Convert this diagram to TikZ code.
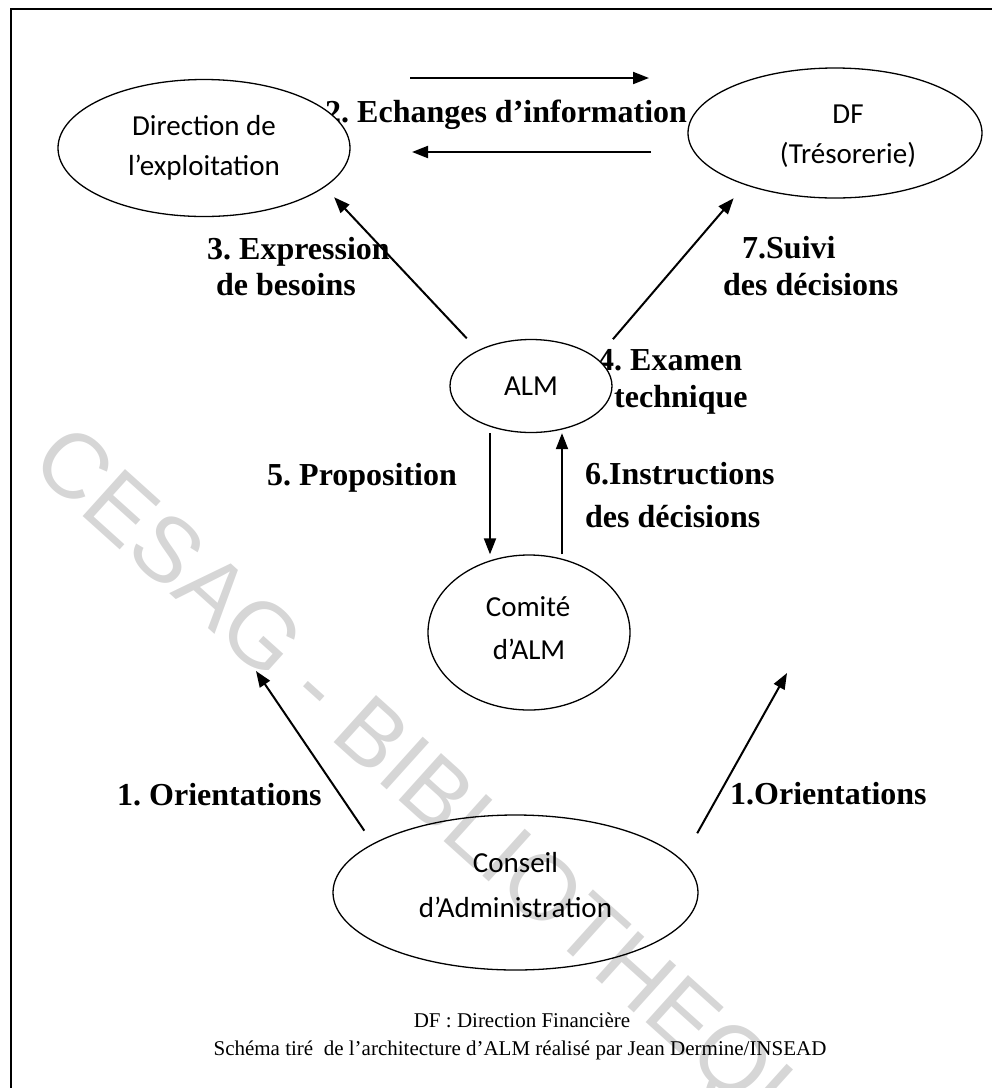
\documentclass[tikz,border=0pt]{standalone}
\usepackage{fontspec}
\setmainfont{Liberation Serif}
\newfontfamily\calib{Carlito}
\newfontfamily\wmfont{Liberation Sans}
\usetikzlibrary{arrows.meta,shapes.geometric,calc}
\frenchspacing
\begin{document}
\begin{tikzpicture}[x=1pt,y=-1pt,
  ell/.style={ellipse,draw,line width=1.3pt,inner sep=0pt},
  etext/.style={anchor=base,inner sep=0pt,font=\calib\fontsize{29}{35}\selectfont},
  lab/.style={anchor=base west,inner sep=0pt,font=\bfseries\fontsize{32}{38}\selectfont},
  arr/.style={line width=2pt,-{Triangle[length=16pt,width=12pt]}},
  foot/.style={anchor=base,inner sep=0pt,font=\fontsize{21}{25}\selectfont},
  wm/.style={font=\wmfont\fontsize{92}{100}\selectfont,text=black!16,inner sep=0pt}
]
\useasboundingbox (0,0) rectangle (992,1088);
% frame (only top and left edges visible)
\draw[line width=2.5pt] (992,9) -- (11,9) -- (11,1088);

% watermark
\begin{scope}
\clip (12,10) rectangle (992,1088);
\node[wm,rotate=-42] (wmark) at (447,812) {CESAG - BIBLIOTHEQUE};
\end{scope}

% labels
\node[lab] (l2) at (325,122) {2. Echanges d’information};
\node[lab] (l3a) at (207,259) {3. Expression};
\node[lab] (l3b) at (216,295) {de besoins};
\node[lab] (l7a) at (742,258) {7.Suivi};
\node[lab] (l7b) at (723,295) {des décisions};
\node[lab] (l4a) at (598,370) {4. Examen};
\node[lab] (l4b) at (614,407) {technique};
\node[lab] (l5) at (267,485) {5. Proposition};
\node[lab] (l6a) at (585,484) {6.Instructions};
\node[lab] (l6b) at (585,527) {des décisions};
\node[lab] (l1a) at (117,805) {1. Orientations};
\node[lab] (l1b) at (730,804) {1.Orientations};

% ellipses
\node[ell,fill=white,minimum width=292pt,minimum height=137pt] (dir) at (204,148) {};
\node[ell,fill=white,minimum width=294pt,minimum height=130pt] (df) at (835,133) {};
\node[ell,fill=white,minimum width=162pt,minimum height=93pt] (alm) at (531,386) {};
\node[ell,minimum width=202pt,minimum height=155pt] (comite) at (529,632.5) {};
\node[ell,minimum width=365pt,minimum height=155pt] (conseil) at (515.5,892.5) {};

% ellipse texts
\node[etext] (dir1) at ($(dir)+(0,-13)$) {Direction de};
\node[etext] (dir2) at ($(dir)+(0,27)$) {l’exploitation};
\node[etext] (df1) at ($(df)+(13,-10)$) {DF};
\node[etext] (df2) at ($(df)+(13,30)$) {(Trésorerie)};
\node[etext] (alm1) at ($(alm)+(0,9)$) {ALM};
\node[etext] (com1) at ($(comite)+(-1,-16)$) {Comité};
\node[etext] (com2) at ($(comite)+(0,27)$) {d’ALM};
\node[etext] (con1) at ($(conseil)+(0,-20)$) {Conseil};
\node[etext] (con2) at ($(conseil)+(0,25)$) {d’Administration};

% free ends of the arrows
\coordinate (e1s) at (410,78);
\coordinate (e1t) at (649,78);
\coordinate (e2s) at (651,152);
\coordinate (e2t) at (412,152);
\coordinate (o1t) at (256,671);
\coordinate (o2t) at (787,673);

% connectors
\draw[arr] (e1s) -- (e1t);
\draw[arr] (e2s) -- (e2t);
\draw[arr,shorten <=16.3pt,shorten >=13.7pt] (alm.146.9) -- (dir.-18.06);
\draw[arr,shorten <=24.9pt,shorten >=17.4pt] (alm.23.6) -- (df.210.4);
\draw[arr] ([xshift=-41pt]alm.south) -- ([xshift=-39pt]comite.north);
\draw[arr] ([xshift=33pt]comite.north) -- ([xshift=31pt]alm.south);
\draw[arr,shorten <=15.4pt] (conseil.161.7) -- (o1t);
\draw[arr,shorten <=30.8pt] (conseil.11.6) -- (o2t);

% footer
\node[foot] (f1) at (522,1027) {DF : Direction Financière};
\node[foot] (f2) at (520,1055) {Schéma tiré\ \ de l’architecture d’ALM réalisé par Jean Dermine/INSEAD};
\end{tikzpicture}
\end{document}
